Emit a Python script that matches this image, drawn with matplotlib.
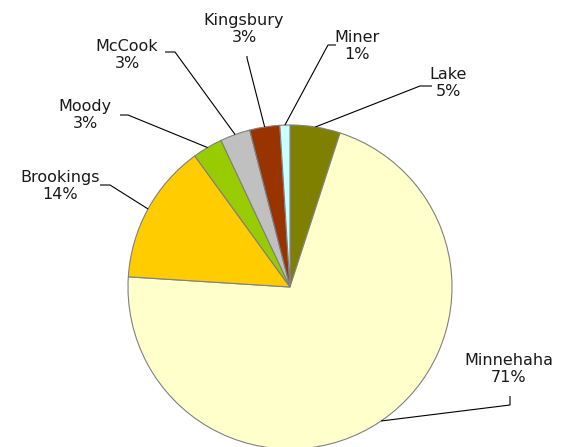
import numpy as np
import matplotlib
matplotlib.use("Agg")
import matplotlib.pyplot as plt

# county shares, clockwise from 12 o'clock
counties = ['Lake', 'Minnehaha', 'Brookings', 'Moody', 'McCook', 'Kingsbury', 'Miner']
shares = [5, 71, 14, 3, 3, 3, 1]
colors = ['#808000', '#FFFFCC', '#FFCC00', '#99CC00', '#C0C0C0', '#993300', '#CCFFFF']

# label centre and elbow of the leader line, in pixels of the 567x447 canvas
label_px = [(448, 83), (509, 369), (60, 186), (85, 115), (127, 55), (244, 29), (357, 46)]
elbow_px = [[(420, 86), (432, 86)], [(510, 405), (510, 396)], [(110, 185), (100, 185)],
            [(128, 115), (120, 115)], [(175, 52), (165, 52)], [(247, 58), (247, 56)],
            [(328, 45), (336, 45)]]

W, H = 567, 447
cx, cy, R = 290, 287, 162


def to_data(px, py):
    return (px - cx) / R, (cy - py) / R


fig = plt.figure(figsize=(W / 100, H / 100), dpi=100)
ax = fig.add_axes([0, 0, 1, 1])
wedges, _ = ax.pie(shares, colors=colors, startangle=90, counterclock=False,
                   wedgeprops=dict(edgecolor='#808080', linewidth=0.8))
ax.set_aspect('auto')
ax.set_xlim(-cx / R, (W - cx) / R)
ax.set_ylim(-(H - cy) / R, cy / R)
ax.axis('off')

for w, name, val, lp, el in zip(wedges, counties, shares, label_px, elbow_px):
    mid = np.deg2rad((w.theta1 + w.theta2) / 2)
    pts = [(np.cos(mid), np.sin(mid))] + [to_data(*p) for p in el]
    xs, ys = zip(*pts)
    ax.plot(xs, ys, color='black', lw=0.8, solid_capstyle='butt')
    tx, ty = to_data(*lp)
    ax.text(tx, ty, f'{name}\n{val}%', ha='center', va='center', fontsize=11.5,
            color='#1a1a1a', linespacing=1.2)

fig.savefig('out.png', dpi=100)
